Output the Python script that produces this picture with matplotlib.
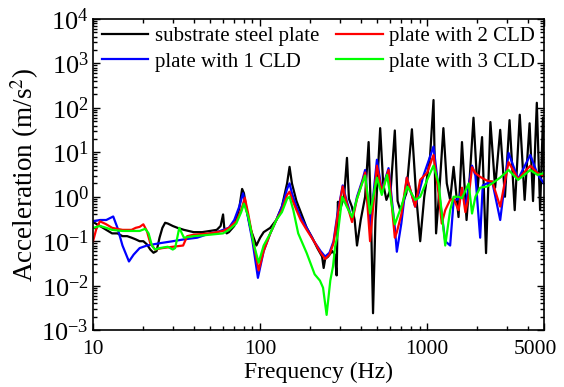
import matplotlib
matplotlib.use('Agg')
import matplotlib.pyplot as plt
import matplotlib.transforms as mtransforms
from matplotlib.ticker import LogLocator, NullFormatter, FixedLocator, FixedFormatter

plt.rcParams['font.family'] = ['Liberation Serif', 'DejaVu Serif']
plt.rcParams['mathtext.fontset'] = 'stix'

# --- data (frequency in Hz, acceleration in m/s^2) ---
f_black = [10, 11, 12, 13, 14, 15, 16, 17, 18, 19, 20, 21, 22, 23, 24, 25, 26, 27, 28, 30,
           32, 35, 40, 45, 50, 55, 58, 60, 61, 63, 65, 70, 75, 78, 80, 83, 88, 95, 100, 105,
           115, 125, 135, 145, 150, 155, 165, 175, 190, 205, 220, 235, 240, 245, 255, 270, 280,
           287, 292, 300, 318, 331, 340, 354, 368, 380, 400, 425, 446, 460, 474, 490, 523, 545,
           570, 605, 640, 665, 690, 750, 810, 860, 908, 960, 1040, 1091, 1130, 1190, 1250, 1310,
           1372, 1439, 1540, 1615, 1720, 1800, 1893, 2000, 2130, 2250, 2390, 2550, 2735, 2920,
           3110, 3340, 3580, 3830, 4100, 4300, 4530, 4740, 4930, 5000]
a_black = [0.27, 0.22, 0.18, 0.15, 0.15, 0.13, 0.13, 0.12, 0.11, 0.1, 0.1, 0.085, 0.065, 0.055,
           0.06, 0.12, 0.2, 0.26, 0.25, 0.22, 0.2, 0.18, 0.16, 0.16, 0.17, 0.18, 0.22, 0.4, 0.2,
           0.15, 0.16, 0.22, 0.55, 1.5, 1.2, 0.5, 0.18, 0.08, 0.12, 0.16, 0.2, 0.3, 0.6, 2.0, 4.7,
           2.0, 0.8, 0.45, 0.2, 0.12, 0.07, 0.045, 0.025, 0.04, 0.045, 0.06, 0.05, 0.017, 0.77,
           0.5, 1.0, 7.5, 0.9, 0.6, 0.3, 0.08, 0.3, 1.0, 17, 0.5, 0.0024, 0.3, 35, 2, 0.85, 1.5,
           31, 0.8, 0.5, 1.2, 33, 1.0, 0.1, 1.0, 8, 150, 0.15, 2, 35, 2, 0.85, 4.7, 0.35, 17, 0.3,
           3, 60, 1.4, 22, 0.054, 48, 1.6, 32, 1.0, 53, 0.5, 70, 0.85, 45, 0.8, 130, 0.5, 60, 3]

f_blue = [10, 11, 12, 13.2, 14, 15, 16.4, 17.5, 19, 21, 25, 30, 35, 42, 50, 55, 60, 65, 70, 75,
          79, 83, 90, 97, 105, 115, 125, 135, 145, 150, 155, 165, 175, 190, 210, 230, 245, 260,
          275, 290, 312, 330, 355, 380, 410, 425, 455, 500, 535, 587, 640, 658, 700, 755, 847,
          950, 1091, 1170, 1282, 1372, 1439, 1540, 1615, 1692, 1855, 1943, 2075, 2150, 2280,
          2450, 2735, 3069, 3500, 4140, 4580, 5000]
a_blue = [0.28, 0.3, 0.3, 0.36, 0.2, 0.08, 0.035, 0.05, 0.07, 0.08, 0.09, 0.1, 0.11, 0.12, 0.15,
          0.16, 0.18, 0.2, 0.3, 0.6, 1.2, 0.5, 0.1, 0.015, 0.06, 0.15, 0.3, 0.6, 1.5, 2.0, 1.2,
          0.6, 0.35, 0.2, 0.1, 0.06, 0.045, 0.055, 0.1, 0.4, 1.8, 0.8, 0.3, 1.0, 2.4, 4.0, 0.2,
          6.8, 1.4, 4.4, 0.2, 0.058, 0.25, 2.7, 0.6, 3, 13.5, 1.5, 0.1, 0.08, 0.8, 0.9, 1.5, 0.6,
          5, 3, 0.12, 1.8, 2, 2.2, 0.3, 9.7, 2.5, 8.7, 3.2, 2]

f_red = [10, 10.5, 11, 12, 13, 15, 17, 18, 19, 20, 21, 22, 23.5, 26, 30, 34.6, 36.6, 40, 50,
         60, 65, 72, 77, 81, 85, 92, 98, 105, 115, 125, 135, 145, 150, 155, 165, 175, 190, 210,
         230, 245, 260, 275, 290, 312, 330, 355, 380, 410, 425, 455, 500, 535, 587, 640, 658,
         700, 755, 847, 908, 1000, 1091, 1170, 1222, 1282, 1372, 1439, 1540, 1615, 1692, 1771,
         1855, 1943, 2075, 2280, 2450, 2735, 3069, 3500, 4140, 4580, 5000]
a_red = [0.1, 0.2, 0.28, 0.24, 0.2, 0.18, 0.18, 0.2, 0.21, 0.24, 0.17, 0.09, 0.065, 0.07, 0.075,
         0.08, 0.13, 0.14, 0.15, 0.17, 0.2, 0.28, 0.5, 0.95, 0.4, 0.08, 0.022, 0.06, 0.15, 0.3,
         0.5, 1.1, 1.3, 0.9, 0.5, 0.3, 0.18, 0.1, 0.055, 0.04, 0.05, 0.09, 0.35, 1.7, 0.7, 0.27,
         0.9, 2.2, 3.5, 0.1, 5, 1.3, 4, 0.12, 0.16, 0.4, 2.7, 0.6, 2.4, 3.5, 8.7, 1.2, 0.25, 0.5,
         0.85, 0.9, 0.5, 1.6, 0.45, 1.0, 4.6, 3.4, 2.8, 2.3, 2.2, 0.6, 6, 2.5, 5, 3.4, 3]

f_green = [10, 11, 12, 13, 15, 17, 19, 20.5, 21.5, 22.5, 23.5, 25, 28, 30, 31, 32.8, 35, 40, 50,
           60, 65, 72, 77, 80, 85, 92, 98, 105, 115, 125, 135, 145, 150, 158, 169, 190, 212, 228,
           238, 250, 263, 273, 281, 292, 310, 330, 355, 380, 410, 425, 455, 500, 535, 575, 640,
           700, 760, 850, 908, 1000, 1091, 1170, 1282, 1372, 1439, 1540, 1615, 1771, 1855, 1943,
           2075, 2280, 2450, 2735, 3069, 3500, 4140, 4580, 5000]
a_green = [0.2, 0.22, 0.2, 0.18, 0.17, 0.17, 0.17, 0.19, 0.15, 0.08, 0.065, 0.07, 0.075, 0.065,
           0.07, 0.2, 0.12, 0.13, 0.14, 0.15, 0.18, 0.25, 0.45, 0.7, 0.35, 0.08, 0.033, 0.08,
           0.15, 0.3, 0.45, 0.9, 1.0, 0.5, 0.15, 0.054, 0.018, 0.013, 0.009, 0.0022, 0.013,
           0.027, 0.075, 0.15, 1.0, 0.6, 0.35, 0.9, 2.1, 3.0, 0.42, 2.7, 1.1, 3.1, 0.24, 0.6,
           1.7, 0.85, 1.0, 2.4, 5, 2, 0.08, 0.5, 1.0, 1.0, 0.93, 2.0, 0.42, 1.0, 1.6, 1.7, 2,
           2.7, 4, 2.4, 4, 3.1, 3.4]

series = [
    (f_black, a_black, 'black', 'substrate steel plate'),
    (f_blue, a_blue, '#0000ff', 'plate with 1 CLD'),
    (f_red, a_red, '#ff0000', 'plate with 2 CLD'),
    (f_green, a_green, '#00ff00', 'plate with 3 CLD'),
]

fig = plt.figure(figsize=(5.64, 3.87), dpi=100)
ax = fig.add_axes([0.165, 0.147, 0.7995, 0.804])

for f, a, c, lab in series:
    ax.plot(f, a, color=c, lw=1.6, label=lab)

ax.set_xscale('log')
ax.set_yscale('log')
ax.set_xlim(10, 5000)
ax.set_ylim(1e-3, 1e4)

xt = [10, 100, 1000, 5000]
ax.xaxis.set_major_locator(FixedLocator(xt))
ax.xaxis.set_major_formatter(FixedFormatter([str(v) for v in xt]))
ax.xaxis.set_minor_locator(LogLocator(base=10, subs=range(2, 10), numticks=20))
ax.xaxis.set_minor_formatter(NullFormatter())

ax.yaxis.set_major_locator(LogLocator(base=10, numticks=20))
ax.yaxis.set_minor_locator(LogLocator(base=10, subs=range(2, 10), numticks=40))
ax.yaxis.set_minor_formatter(NullFormatter())

ax.tick_params(which='both', direction='in', top=True, right=True, width=1)
ax.tick_params(which='major', length=5)
ax.tick_params(which='minor', length=3)
ax.tick_params(axis='x', which='major', labelsize=15.5, pad=7)
ax.tick_params(axis='y', which='major', labelsize=19, pad=3)
for s in ax.spines.values():
    s.set_linewidth(1.2)

# pull the last x label ("5000") slightly left so it stays inside the figure
last = ax.get_xticklabels()[-1]
last.set_transform(last.get_transform() +
                   mtransforms.ScaledTranslation(-6 / 72, 0, fig.dpi_scale_trans))

ax.set_xlabel('Frequency (Hz)', fontsize=17, labelpad=2)
ax.set_ylabel('Acceleration (m/s$^2$)', fontsize=19.5, labelpad=0)

ax.legend(loc='upper left', ncol=2, frameon=False, fontsize=15,
          handlelength=2.25, handletextpad=0.3, columnspacing=0.8,
          labelspacing=0.28, borderpad=0.3, borderaxespad=0.0,
          bbox_to_anchor=(0.005, 0.995))

fig.savefig('out.png', dpi=100)
